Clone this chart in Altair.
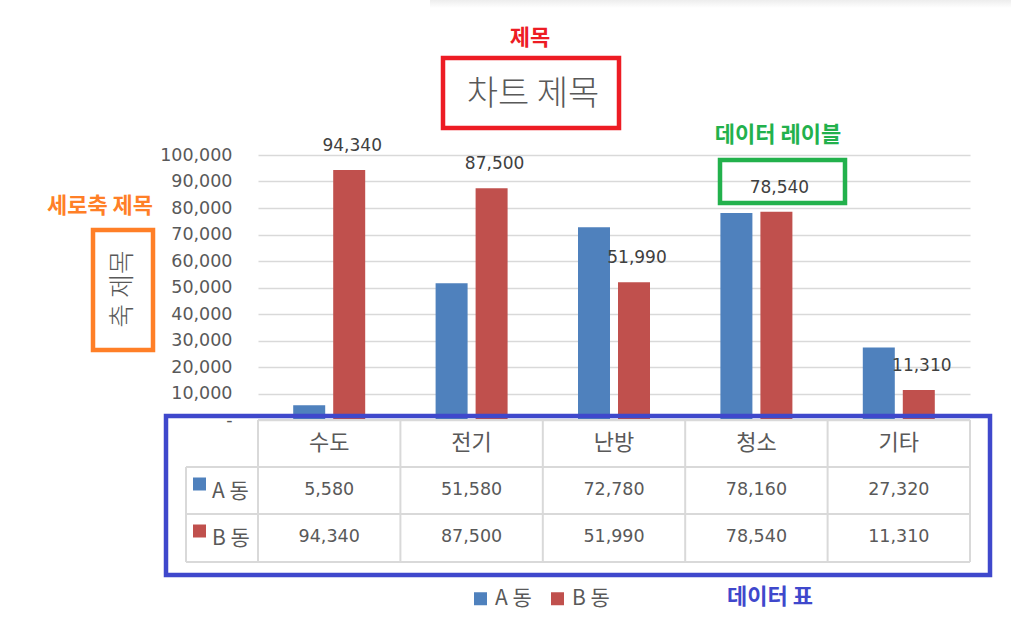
import altair as alt
import pandas as pd

# ---------------- data ----------------
categories = ["수도", "전기", "난방", "청소", "기타"]
series_names = ["A 동", "B 동"]
a_values = [5580, 51580, 72780, 78160, 27320]
b_values = [94340, 87500, 51990, 78540, 11310]
y_ticks = [0, 10000, 20000, 30000, 40000, 50000, 60000, 70000, 80000, 90000, 100000]
series_colors = ["#4F81BD", "#C0504D"]

chart_title = "차트 제목"
axis_title = "축 제목"
note_title = "제목"
note_labels = "데이터 레이블"
note_axis = "세로축 제목"
note_table = "데이터 표"

# ---------------- layout ----------------
W, H = 712, 265
PAD = {"left": 258, "top": 155, "right": 41, "bottom": 206}
KR = "Noto Sans CJK KR"
NUM = "DejaVu Sans"
GRAY = "#595959"
LINE = "#d9d9d9"
RED, GREEN, ORANGE, BLUE = "#ED1C24", "#22B14C", "#FF7F27", "#3F48CC"

rows = []
for s, vals in zip(series_names, [a_values, b_values]):
    for c, v in zip(categories, vals):
        rows.append({"category": c, "series": s, "value": v})
df = pd.DataFrame(rows)
cat_df = pd.DataFrame({"category": categories})
one = pd.DataFrame({"k": [0]})

x_scale = alt.Scale(domain=categories, paddingInner=0, paddingOuter=0)
x_enc = alt.X("category:N", scale=x_scale, axis=None)
xo_enc = alt.XOffset("series:N", scale=alt.Scale(domain=series_names, paddingInner=0.2, paddingOuter=0.88))
y_axis = alt.Axis(
    values=y_ticks, title=None, grid=True, gridColor=LINE, gridWidth=1.5,
    domain=False, ticks=False, labelPadding=26, labelFont=NUM, labelFontSize=17.5,
    labelColor=GRAY, labelOverlap=False,
    labelExpr="datum.value === 0 ? '-' : format(datum.value, ',')",
)
y_enc = alt.Y("value:Q", scale=alt.Scale(domain=[0, 100000]), axis=y_axis)
color_enc = alt.Color(
    "series:N",
    scale=alt.Scale(domain=series_names, range=series_colors),
    legend=alt.Legend(
        orient="none", legendX=212, legendY=433, direction="horizontal", title=None,
        symbolType="square", symbolSize=169, symbolStrokeWidth=0,
        labelFont=KR, labelFontSize=21, labelColor=GRAY, labelOffset=4,
        columnPadding=15, padding=0,
    ),
)

bars = alt.Chart(df).mark_bar().encode(
    x=x_enc, xOffset=xo_enc, y=y_enc, color=color_enc,
)

labels = alt.Chart(df).transform_filter(alt.datum.series == "B 동").mark_text(
    font=NUM, fontSize=17, color="#404040", dy=-24, dx=3, baseline="middle"
).encode(
    x=x_enc, xOffset=xo_enc, y=y_enc, text=alt.Text("value:Q", format=",")
)

# ---------------- data table ----------------
def hline(y, x1, x2):
    return alt.Chart(one).mark_rule(color=LINE, strokeWidth=2).encode(
        x=alt.value(x1), x2=alt.value(x2), y=alt.value(y))

vlines = alt.Chart(cat_df).mark_rule(color=LINE, strokeWidth=2).encode(
    x=alt.X("category:N", scale=x_scale, axis=None, bandPosition=0),
    y=alt.value(265), y2=alt.value(407))
vline_right = alt.Chart(one).mark_rule(color=LINE, strokeWidth=2).encode(
    x=alt.value(W), y=alt.value(265), y2=alt.value(407))
vline_left = alt.Chart(one).mark_rule(color=LINE, strokeWidth=2).encode(
    x=alt.value(-72), y=alt.value(312), y2=alt.value(407))

table_lines = [hline(265, 0, W), hline(312, -72, W), hline(359, -72, W), hline(407, -72, W),
               vlines, vline_right, vline_left]

header = alt.Chart(cat_df).mark_text(font=KR, fontSize=22, color=GRAY, baseline="middle").encode(
    x=x_enc, y=alt.value(288), text="category:N")

row_layers = []
for s, ry in zip(series_names, [335, 382]):
    sub = alt.Chart(df).transform_filter(alt.datum.series == s)
    row_layers.append(sub.mark_text(font=NUM, fontSize=17.5, color=GRAY, baseline="middle").encode(
        x=x_enc, y=alt.value(ry), text=alt.Text("value:Q", format=",")))
    row_layers.append(alt.Chart(df).transform_filter(
        (alt.datum.series == s) & (alt.datum.category == categories[0])
    ).mark_square(size=169, opacity=1).encode(
        x=alt.value(-58.5), y=alt.value(ry - 6), color=color_enc))
    row_layers.append(alt.Chart(df).transform_filter(
        (alt.datum.series == s) & (alt.datum.category == categories[0])
    ).mark_text(font=KR, fontSize=21, color=GRAY, align="left", baseline="middle").encode(
        x=alt.value(-46), y=alt.value(ry + 2), text="series:N"))

# ---------------- annotations ----------------
def box(x1, y1, x2, y2, color, sw=4.5):
    return alt.Chart(one).mark_rect(fill="transparent", stroke=color, strokeWidth=sw).encode(
        x=alt.value(x1), x2=alt.value(x2), y=alt.value(y1), y2=alt.value(y2))

def note(text, x, y, color, size=22, weight="bold", angle=0, font=KR):
    return alt.Chart(one).mark_text(
        text=text, font=font, fontSize=size, fontWeight=weight, color=color,
        align="center", baseline="middle", angle=angle,
    ).encode(x=alt.value(x), y=alt.value(y))

shadow = alt.Chart(one).mark_rect(
    color=alt.LinearGradient(
        gradient="linear", x1=0, x2=0, y1=0, y2=1,
        stops=[alt.GradientStop(color="#ededed", offset=0), alt.GradientStop(color="#ffffff", offset=1)],
    )
).encode(x=alt.value(172), x2=alt.value(753), y=alt.value(-155), y2=alt.value(-147))

annotations = [
    shadow,
    note(note_title, 272, -117, RED),
    box(185, -97, 361, -27, RED),
    note(chart_title, 275, -60, GRAY, size=34, weight=300),
    note(note_labels, 520, -20, GREEN),
    box(462, 5, 587, 48, GREEN),
    note(note_axis, -158, 51, ORANGE),
    box(-165, 75, -105, 195, ORANGE),
    note(axis_title, -135, 134, GRAY, size=26, weight=300, angle=270),
    box(-92, 261, 732, 420, BLUE),
    note(note_table, 512, 442, BLUE),
]

chart = alt.layer(
    bars, labels, *table_lines, header, *row_layers, *annotations
).properties(
    width=W, height=H, padding=PAD,
    autosize=alt.AutoSizeParams(type="none"),
    background="white",
).configure_view(stroke=None)

chart.save("out.html", embed_options={"renderer": "svg", "actions": False})
